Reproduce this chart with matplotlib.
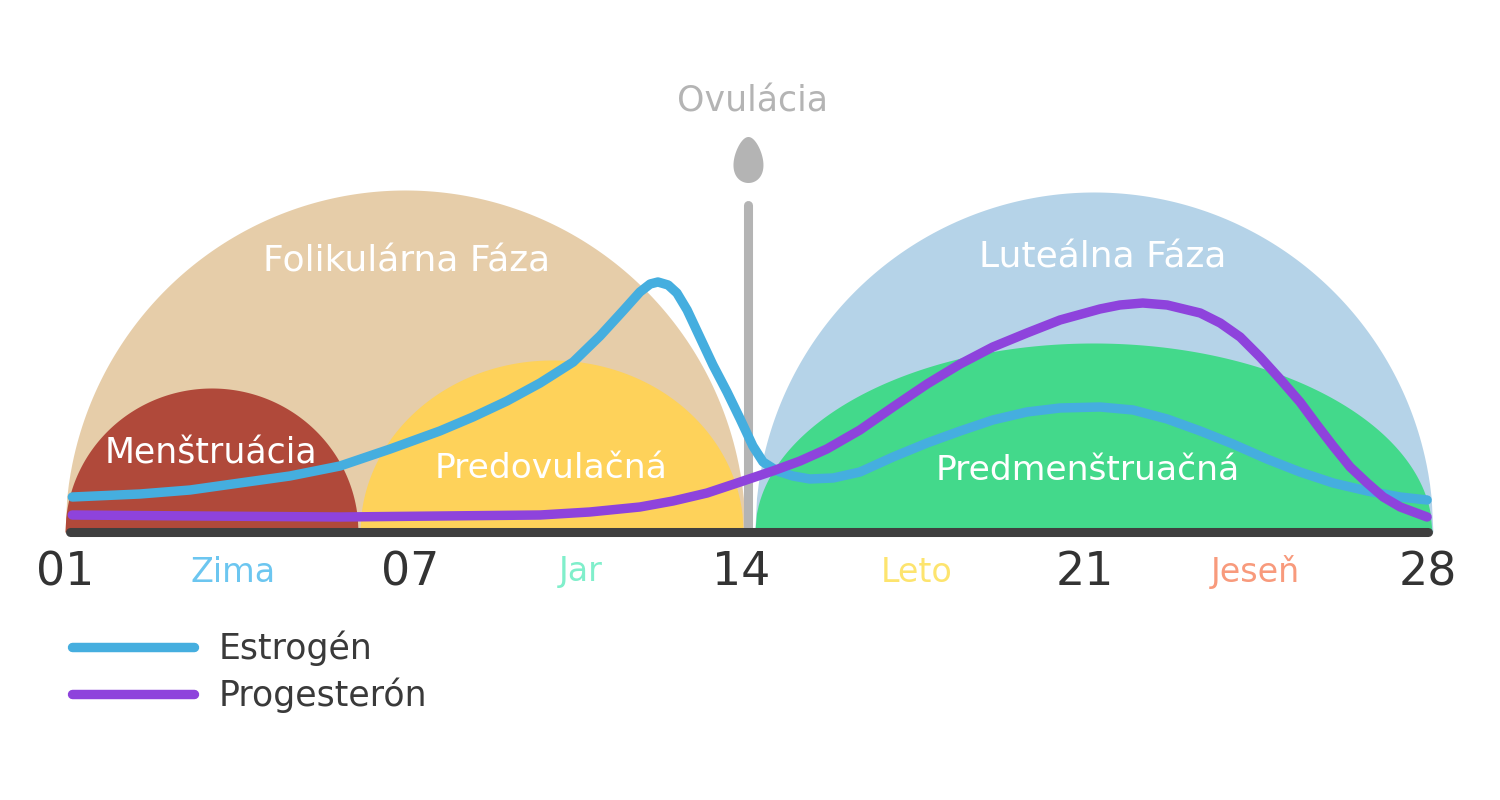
import numpy as np
import matplotlib
matplotlib.use("Agg")
import matplotlib.pyplot as plt

# ---------------- data ----------------
day_ticks = [0, 7.1, 13.9, 20.95, 28]
day_labels = ["01", "07", "14", "21", "28"]

season_names = ["Zima", "Jar", "Leto", "Jeseň"]
season_days = [3.45, 10.6, 17.5, 24.45]
season_colors = ["#6cc6f0", "#80efcb", "#fde46e", "#f89a7c"]

phase_names = ["Folikulárna Fáza", "Luteálna Fáza"]
phase_start = [0.0, 14.17]
phase_end = [13.97, 28.1]
phase_height = [342, 340]
phase_colors = ["#e6cda9", "#b5d3e8"]

sub_names = ["Menštruácia", "Predovulačná", "Predmenštruačná"]
sub_start = [0.0, 6.06, 14.17]
sub_end = [6.02, 13.93, 28.08]
sub_height = [144, 172, 189]
sub_colors = ["#b0493a", "#fed25a", "#43d98b"]

estrogen_day = [0.15, 1.54, 2.57, 3.59, 4.62, 5.65, 6.68, 7.70, 8.38, 9.08,
                9.76, 10.44, 10.99, 11.46, 11.81, 12.02, 12.18, 12.39, 12.57,
                12.78, 13.04, 13.31, 13.60, 13.87, 14.13, 14.34, 14.63, 14.95,
                15.30, 15.78, 16.33, 17.01, 17.71, 18.39, 19.06, 19.76, 20.44,
                21.26, 21.94, 22.64, 23.32, 23.99, 24.69, 25.37, 26.05, 26.75,
                27.43, 27.98]
estrogen_level = [35, 38, 42, 49, 56, 66, 83, 101, 115, 131,
                  149, 170, 196, 221, 240, 248, 250, 247, 239,
                  222, 195, 167, 140, 113, 86, 70, 61, 56,
                  53, 54, 60, 75, 89, 101, 112, 120, 124,
                  125, 122, 113, 101, 88, 73, 60, 49, 41,
                  35, 32]

progesterone_day = [0.15, 2.77, 5.65, 9.76, 10.78, 11.81, 12.49, 13.19, 13.87,
                    14.54, 15.10, 15.65, 16.33, 17.01, 17.71, 18.39, 19.06,
                    19.76, 20.44, 21.26, 21.67, 22.14, 22.64, 23.32, 23.73,
                    24.14, 24.55, 24.96, 25.37, 25.72, 26.05, 26.40, 26.75,
                    27.08, 27.43, 27.98]
progesterone_level = [17, 16, 15, 17, 20, 25, 31, 39, 50,
                      61, 71, 83, 102, 125, 148, 168, 185,
                      199, 212, 223, 227, 229, 227, 219, 209,
                      195, 175, 153, 130, 107, 86, 65, 49,
                      35, 25, 15]

ovulation_day = 14.04
ovulation_bar_top = 327

series_names = ["Estrogén", "Progesterón"]

# ---------------- layout ----------------
phase_label_xy = [(7.02, 270), (21.32, 275)]
phase_label_size = [26, 26]
sub_label_xy = [(3.0, 79), (9.98, 64), (21.01, 62)]
sub_label_size = [25, 24.8, 24.8]

C_EST = "#45aedf"
C_PROG = "#8e43dc"
C_GRAY = "#b4b4b4"

plt.rcParams["font.family"] = ["DejaVu Sans"]

fig = plt.figure(figsize=(15, 8), dpi=100)
ax = fig.add_axes([0, 0, 1, 1])
ax.set_xlim(-1.335, 29.478)
ax.set_ylim(-268, 532)


def dome(s, e, h, color, z):
    x = np.linspace(s, e, 400)
    c = (s + e) / 2
    a = (e - s) / 2
    y = h * np.sqrt(np.clip(1 - ((x - c) / a) ** 2, 0, None))
    ax.fill_between(x, 0, y, color=color, lw=0, zorder=z)


for s, e, h, col in zip(phase_start, phase_end, phase_height, phase_colors):
    dome(s, e, h, col, 1)
for s, e, h, col in zip(sub_start, sub_end, sub_height, sub_colors):
    dome(s, e, h, col, 1.5)

for name, (x, y), fs in zip(phase_names, phase_label_xy, phase_label_size):
    ax.text(x, y, name, color="white", fontsize=fs, ha="center", va="center", zorder=2)
for name, (x, y), fs in zip(sub_names, sub_label_xy, sub_label_size):
    ax.text(x, y, name, color="white", fontsize=fs, ha="center", va="center", zorder=2)

# ovulation marker
ax.vlines(ovulation_day, 0, ovulation_bar_top, color=C_GRAY, lw=6.5,
          capstyle="round", zorder=2.2)
t = np.linspace(0, 2 * np.pi, 300)
rx = 18.2 / 48.68
ry = 23
yc = ovulation_bar_top + 45
xs = ovulation_day + rx * np.cos(t) * (0.8 - 0.2 * np.sin(t))
ys = yc + ry * np.sin(t)
ax.fill(xs, ys, color=C_GRAY, lw=0, zorder=2.2)
ax.text(ovulation_day + 0.08, 430, "Ovulácia", color=C_GRAY, fontsize=25,
        ha="center", va="center")

# hormone curves
l1, = ax.plot(estrogen_day, estrogen_level, color=C_EST, lw=6.8,
              solid_capstyle="round", solid_joinstyle="round", zorder=4)
l2, = ax.plot(progesterone_day, progesterone_level, color=C_PROG, lw=6.8,
              solid_capstyle="round", solid_joinstyle="round", zorder=4)

# axis: baseline as bottom spine
for sp in ["top", "left", "right"]:
    ax.spines[sp].set_visible(False)
ax.spines["bottom"].set_position(("data", 0))
ax.spines["bottom"].set_bounds(0.1, 28.0)
ax.spines["bottom"].set_linewidth(6.5)
ax.spines["bottom"].set_color("#3f3f3f")
ax.spines["bottom"].set_capstyle("round")
ax.spines["bottom"].set_zorder(3)
ax.set_yticks([])
ax.set_xticks(day_ticks)
ax.set_xticklabels(day_labels)
ax.tick_params(axis="x", length=0, pad=13, labelsize=33, labelcolor="#333333")

for name, x, col in zip(season_names, season_days, season_colors):
    ax.text(x, -40, name, color=col, fontsize=24, ha="center", va="center")

leg = ax.legend([l1, l2], series_names, loc="center left",
                bbox_to_anchor=(72 / 1500, 1 - 671.5 / 800),
                bbox_transform=fig.transFigure, frameon=False, fontsize=25,
                handlelength=3.5, handletextpad=0.72, labelspacing=0.33,
                borderpad=0, borderaxespad=0, labelcolor="#3a3a3a")

fig.savefig("out.png", dpi=100, facecolor="white")
